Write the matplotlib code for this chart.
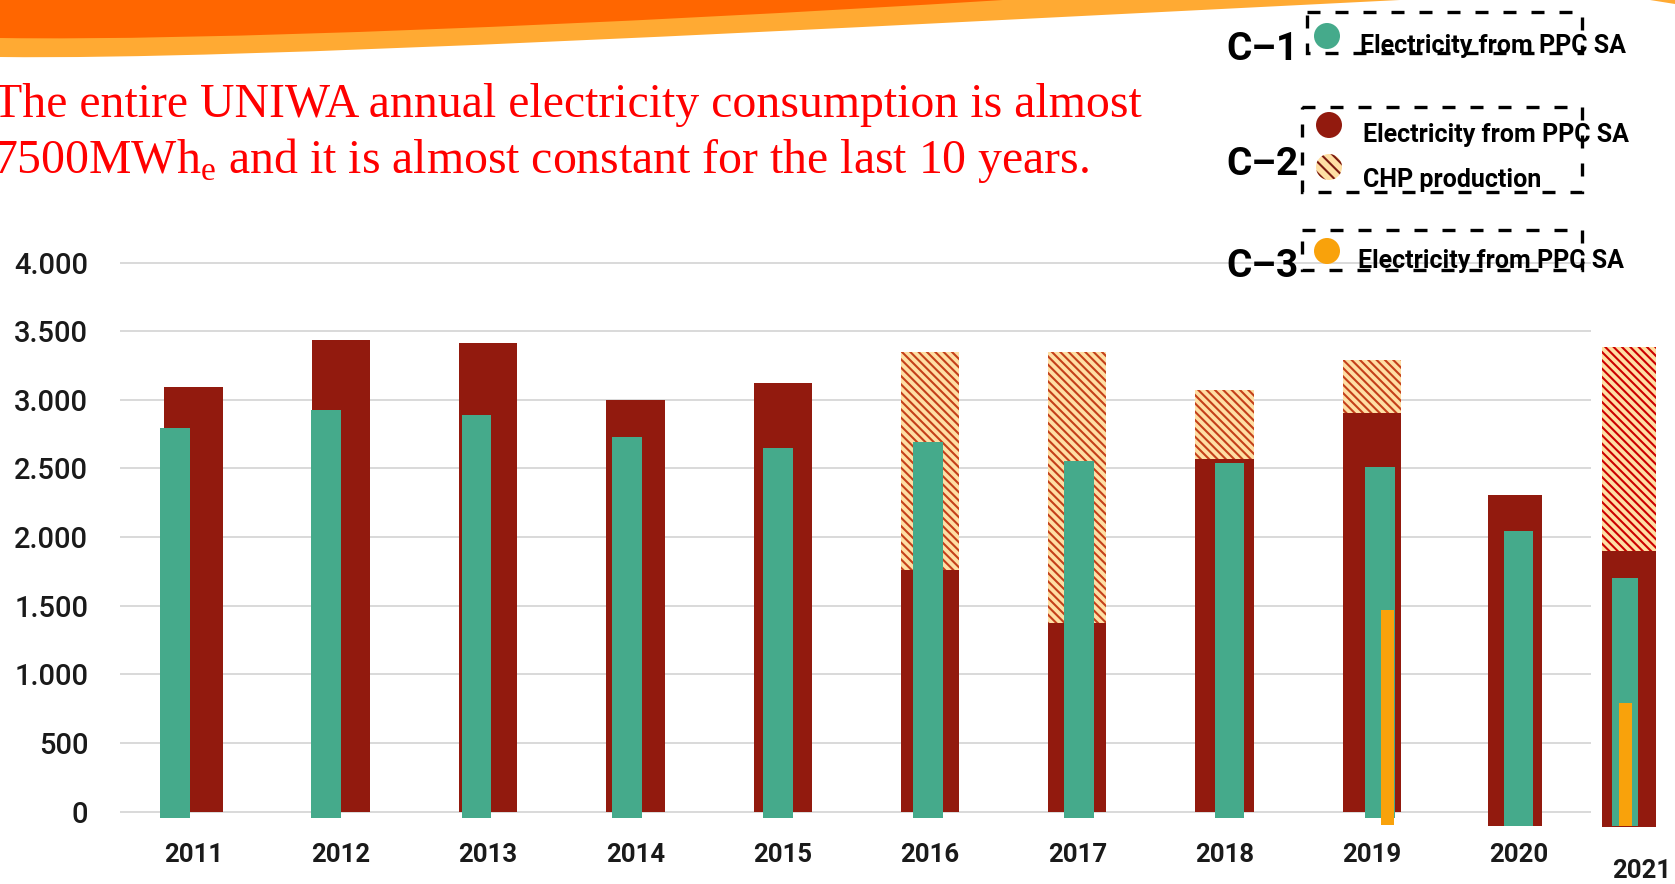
import matplotlib
matplotlib.use("Agg")
import matplotlib.pyplot as plt
import numpy as np
from matplotlib.patches import Circle, PathPatch, Polygon, Rectangle
from matplotlib.path import Path

# ---------------------------------------------------------------------------
# Data: annual electricity at UNIWA campuses (MWh)
# ---------------------------------------------------------------------------
years = [2011, 2012, 2013, 2014, 2015, 2016, 2017, 2018, 2019, 2020, 2021]
ppc_c1 = [2798, 2923, 2892, 2730, 2652, 2695, 2554, 2541, 2507, 2043, 1703]
ppc_c2 = [3095, 3438, 3414, 3002, 3120, 1760, 1377, 2572, 2905, 2305, 1899]
chp_c2 = [0, 0, 0, 0, 0, 1590, 1973, 499, 383, 0, 1485]
ppc_c3 = [np.nan] * 8 + [1472, np.nan, 791]

y_ticks = [0, 500, 1000, 1500, 2000, 2500, 3000, 3500, 4000]
y_tick_labels = ["0", "500", "1.000", "1.500", "2.000", "2.500", "3.000", "3.500", "4.000"]

title_lines = [
    "The entire UNIWA annual electricity consumption is almost",
    r"7500MWh$_\mathregular{e}$ and it is almost constant for the last 10 years.",
]
legend_groups = ["C\u20131", "C\u20132", "C\u20133"]

# ---------------------------------------------------------------------------
# Layout / style
# ---------------------------------------------------------------------------
W, H = 1675, 884
RED = "#921A0E"
GREEN = "#45AA8B"
ORANGE = "#F9A20B"
PEACH = "#FFDFA4"
CHP_STRIPES = ["#C4401A"] * 9 + ["#C4401A", "#CC0000"]

# the three series were exported on slightly different grids
x_c2 = [0, 1, 2, 3, 4, 5, 6, 7, 8, 8.971, 9.748]
w_c2 = [0.396] * 9 + [0.366, 0.367]
base_c2 = [0] * 9 + [-105, -113]

x_c1 = [-0.124, 0.898, 1.921, 2.943, 3.966, 4.988, 6.010, 7.033, 8.055, 8.996, 9.718]
w_c1 = [0.2016] * 9 + [0.197, 0.177]
base_c1 = [-46] * 9 + [-104, -104]

x_c3 = [np.nan] * 8 + [8.103, np.nan, 9.722]
w_c3 = 0.088
base_c3 = [np.nan] * 8 + [-95, np.nan, -104]

tick_pos = list(range(10)) + [9.834]

SANS = ["Roboto", "DejaVu Sans"]

plt.rcParams["hatch.linewidth"] = 1.5

fig = plt.figure(figsize=(W / 100, H / 100), dpi=100)
ax = fig.add_axes([120 / W, 49 / H, 1555 / W, 595 / H])
ax.set_xlim(-0.499, 10.058)
ax.set_ylim(-169.7, 4163.9)
for s in ax.spines.values():
    s.set_visible(False)

ax.hlines(y_ticks, 0, 0.946, transform=ax.get_yaxis_transform(),
          color="#D9D9D9", linewidth=1.4, zorder=1)

# C-2: grid electricity with CHP production stacked on top
c2 = np.array(ppc_c2, dtype=float)
b2 = np.array(base_c2, dtype=float)
ax.bar(x_c2, c2 - b2, width=w_c2, bottom=b2, color=RED, linewidth=0, zorder=2)
ax.bar(x_c2, chp_c2, width=w_c2, bottom=c2, facecolor=PEACH,
       edgecolor=CHP_STRIPES, hatch="\\\\\\\\", linewidth=0, zorder=2)

# C-1: grid electricity
c1 = np.array(ppc_c1, dtype=float)
b1 = np.array(base_c1, dtype=float)
ax.bar(x_c1, c1 - b1, width=w_c1, bottom=b1, color=GREEN, linewidth=0, zorder=3)

# C-3: grid electricity (only reported for some years)
c3 = np.array(ppc_c3, dtype=float)
x3 = np.array(x_c3, dtype=float)
b3 = np.array(base_c3, dtype=float)
ok = ~np.isnan(c3)
ax.bar(x3[ok], c3[ok] - b3[ok], width=w_c3, bottom=b3[ok], color=ORANGE,
       linewidth=0, zorder=4)

ax.set_yticks(y_ticks, y_tick_labels, fontsize=21, fontfamily=SANS,
              fontweight="medium", color="#1A1A1A")
ax.set_xticks(tick_pos, [str(y) for y in years], fontsize=18.5,
              fontfamily=SANS, fontweight="bold", color="#1A1A1A")
ax.tick_params(axis="y", length=0, pad=22.8)
ax.tick_params(axis="x", length=0, pad=5.5)
ax.xaxis.get_major_ticks()[-1].set_pad(17.0)

# ---------------------------------------------------------------------------
# Header banner, statement and legend (pixel coordinates)
# ---------------------------------------------------------------------------
deco = fig.add_axes([0, 0, 1, 1], zorder=5)
deco.set_xlim(0, W)
deco.set_ylim(H, 0)
deco.axis("off")

C3, MV, LN, CP = Path.CURVE4, Path.MOVETO, Path.LINETO, Path.CLOSEPOLY
light = Path([(0, 0), (0, 57), (250, 60), (800, 30), (1400, 0), (0, 0)],
             [MV, LN, C3, C3, C3, CP])
dark = Path([(0, 0), (0, 38), (200, 41), (600, 25), (1003, 0), (0, 0)],
            [MV, LN, C3, C3, C3, CP])
deco.add_patch(PathPatch(light, facecolor="#FFAA33", linewidth=0))
deco.add_patch(PathPatch(dark, facecolor="#FF6600", linewidth=0))
deco.add_patch(Polygon([(1650, 0), (1675, 0), (1675, 3.5)], closed=True,
                       facecolor="#FFAA33", linewidth=0))

for line, base in zip(title_lines, [116.7, 173.3]):
    deco.text(-7, base, line, color="#FF0000", fontsize=34.4,
              fontfamily=["Liberation Serif", "DejaVu Serif"],
              ha="left", va="baseline")

dash = (0, (3.9, 4.5))
boxes = [(1307, 12, 275, 41), (1302, 107, 280, 85), (1302, 230, 280, 40)]
for (bx, by, bw, bh) in boxes:
    deco.add_patch(Rectangle((bx, by), bw, bh, fill=False, edgecolor="black",
                             linewidth=2.4, linestyle=dash))

for label, base in zip(legend_groups, [60, 175, 277]):
    deco.text(1226, base, label, fontsize=28, fontweight="bold",
              fontfamily=SANS, ha="left", va="baseline", color="black")

deco.add_patch(Circle((1327, 36), 13, facecolor=GREEN, linewidth=0))
deco.add_patch(Circle((1329, 125), 13, facecolor=RED, linewidth=0))
deco.add_patch(Circle((1329, 167), 13, facecolor=PEACH, edgecolor="#7B1A10",
                      hatch="\\\\\\", linewidth=0))
deco.add_patch(Circle((1327, 251), 13, facecolor=ORANGE, linewidth=0))

legend_text = [(1360, 53, "Electricity from PPC SA"),
               (1363, 142, "Electricity from PPC SA"),
               (1363, 187, "CHP production"),
               (1358, 268, "Electricity from PPC SA")]
for tx, ty, s in legend_text:
    deco.text(tx, ty, s, fontsize=18, fontweight="bold", fontfamily=SANS,
              ha="left", va="baseline", color="black")

fig.savefig("out.png", dpi=100)
